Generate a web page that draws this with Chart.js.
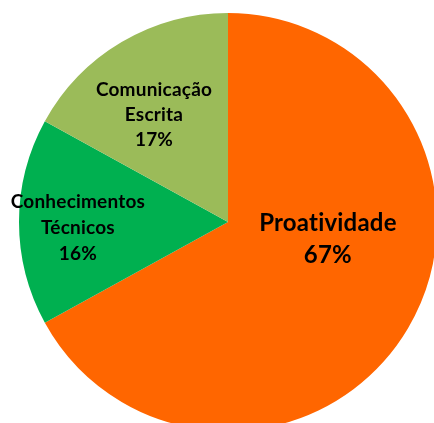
<!DOCTYPE html>
<html>
<head>
<meta charset="utf-8">
<script src="https://cdn.jsdelivr.net/npm/chart.js@4/dist/chart.umd.min.js"></script>
<style>
  html, body { margin: 0; padding: 0; background: #fff; overflow: hidden; width: 434px; height: 423px; }
  #wrap { position: absolute; left: 0; top: 0; width: 456px; height: 444px; }
</style>
</head>
<body>
<div id="wrap"><canvas id="pie"></canvas></div>
<script>
// ── Data ───────────────────────────────────────────────────────────
const categories = ['Proatividade', 'Conhecimentos Técnicos', 'Comunicação Escrita'];
const shares     = [67, 16, 17];
const sliceColors = ['#FF6600', '#00B050', '#9BBB59'];

// label lines drawn inside each slice
const labelLines = [
  ['Proatividade', '67%'],
  ['Conhecimentos', 'Técnicos', '16%'],
  ['Comunicação', 'Escrita', '17%'],
];

/**
 * Draws the in-slice labels. Anchor is given as a fraction of the radius
 * relative to the arc centre (x right, y down).
 */
const sliceLabels = {
  id: 'sliceLabels',
  afterDatasetsDraw(chart, args, opts) {
    const { ctx } = chart;
    const arcs = chart.getDatasetMeta(0).data;
    arcs.forEach((arc, i) => {
      const a = opts.anchors[i];
      const cx = arc.x + a.fx * arc.outerRadius;
      const cy = arc.y + a.fy * arc.outerRadius;
      const lines = labelLines[i];
      const lh = a.lineHeight;
      ctx.save();
      ctx.fillStyle = '#000';
      ctx.font = `bold ${a.size}px Lato, "Open Sans", sans-serif`;
      ctx.letterSpacing = '0.2px'; // avoids the "ti" ligature
      ctx.textAlign = 'center';
      ctx.textBaseline = 'middle';
      const top = cy - (lines.length - 1) * lh / 2;
      lines.forEach((t, k) => ctx.fillText(t, cx, top + k * lh));
      ctx.restore();
    });
  },
};

new Chart(document.getElementById('pie'), {
  type: 'pie',
  data: {
    labels: categories,
    datasets: [{
      data: shares,
      backgroundColor: sliceColors,
      borderWidth: 0,
    }],
  },
  options: {
    responsive: true,
    maintainAspectRatio: false,
    animation: false,
    layout: { padding: 13 },
    plugins: {
      legend: { display: false },
      tooltip: { enabled: false },
      sliceLabels: {
        anchors: [
          { fx: 0.478, fy: 0.081, size: 24, lineHeight: 32 },
          { fx: -0.718, fy: 0.029, size: 19, lineHeight: 26 },
          { fx: -0.354, fy: -0.512, size: 19, lineHeight: 25 },
        ],
      },
    },
  },
  plugins: [sliceLabels],
});
</script>
</body>
</html>
